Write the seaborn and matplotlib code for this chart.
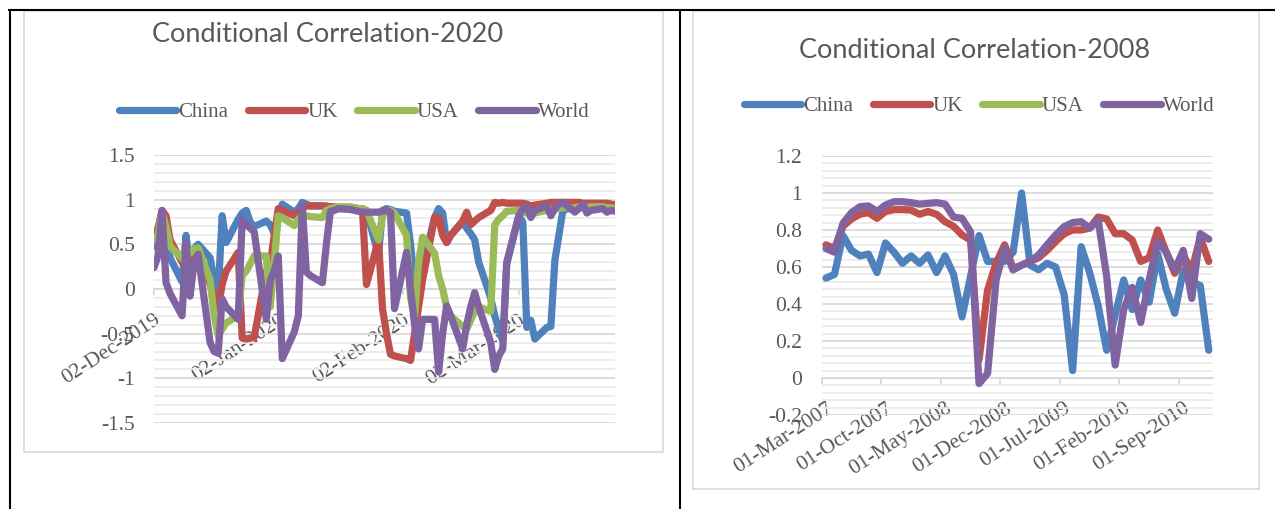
import numpy as np
import pandas as pd
import matplotlib
matplotlib.use("Agg")
import matplotlib.pyplot as plt
import matplotlib.dates as mdates
from matplotlib.lines import Line2D
from matplotlib.patches import Rectangle
from matplotlib.ticker import FixedLocator, MultipleLocator
import seaborn as sns

# ---------------------------------------------------------------- data ----
SERIES = ["China", "UK", "USA", "World"]
COLORS = {"China": "#4F81BD", "UK": "#C0504D", "USA": "#9BBB59", "World": "#8064A2"}

# 2020 episode: daily (business-day) conditional correlations
dates_2020 = pd.bdate_range("2019-12-02", "2020-03-26")
china_2020 = [0.52, 0.45, 0.85, 0.55, 0.35, 0.08, 0.60, 0.20, 0.45, 0.50,
              0.35, 0.10, -0.05, 0.82, 0.52, 0.78, 0.85, 0.88, 0.75, 0.70,
              0.76, 0.72, 0.62, 0.80, 0.95, 0.86, 0.90, 0.97, 0.95, 0.93,
              0.93, 0.92, 0.92, 0.91, 0.90, 0.90, 0.89, 0.90, 0.89, 0.88,
              0.38, 0.88, 0.90, 0.89, 0.87, 0.85, 0.50, 0.05, -0.08, 0.25,
              0.80, 0.90, 0.85, 0.52, 0.60, 0.75, 0.68, 0.62, 0.55, 0.30,
              -0.10, -0.30, -0.45, -0.58, 0.28, 0.82, 0.75, -0.43, -0.35, -0.56,
              -0.43, -0.42, 0.32, 0.60, 0.88, 0.92, 0.90, 0.93, 0.91, 0.90,
              0.92, 0.90, 0.91, 0.90]
uk_2020 = [0.62, 0.68, 0.88, 0.82, 0.55, 0.30, 0.26, 0.35, 0.41, 0.40,
           0.05, -0.10, -0.22, 0.05, 0.20, 0.41, -0.55, -0.56, -0.55, -0.54,
           0.20, 0.28, 0.60, 0.90, 0.88, 0.82, 0.86, 0.90, 0.93, 0.93,
           0.93, 0.93, 0.92, 0.92, 0.91, 0.91, 0.91, 0.90, 0.90, 0.05,
           0.55, -0.22, -0.50, -0.73, -0.75, -0.78, -0.80, -0.50, -0.20, 0.10,
           0.80, 0.80, 0.60, 0.52, 0.60, 0.76, 0.86, 0.72, 0.76, 0.80,
           0.88, 0.97, 0.96, 0.97, 0.96, 0.96, 0.96, 0.95, 0.93, 0.94,
           0.96, 0.97, 0.97, 0.97, 0.97, 0.97, 0.97, 0.96, 0.96, 0.96,
           0.96, 0.96, 0.95, 0.94]
usa_2020 = [0.55, 0.60, 0.86, 0.70, 0.48, 0.34, 0.38, 0.40, 0.45, 0.46,
            0.10, -0.30, -0.52, -0.45, -0.38, -0.30, 0.15, 0.20, 0.28, 0.37,
            0.37, -0.20, 0.30, 0.82, 0.80, 0.71, 0.78, 0.82, 0.82, 0.81,
            0.80, 0.88, 0.90, 0.91, 0.92, 0.92, 0.91, 0.90, 0.90, 0.88,
            0.55, 0.82, 0.88, 0.88, 0.85, 0.60, -0.10, -0.30, 0.30, 0.58,
            0.40, 0.15, 0.00, -0.20, -0.30, -0.42, -0.45, -0.35, -0.25, -0.20,
            -0.25, 0.72, 0.78, 0.82, 0.87, 0.88, 0.86, 0.85, 0.84, 0.85,
            0.88, 0.88, 0.90, 0.90, 0.91, 0.91, 0.92, 0.92, 0.91, 0.92,
            0.92, 0.91, 0.91, 0.90]
world_2020 = [0.24, 0.37, 0.88, 0.07, -0.05, -0.30, 0.52, -0.08, 0.30, 0.39,
              -0.60, -0.70, -0.72, -0.11, -0.20, -0.34, 0.78, 0.72, 0.68, 0.64,
              -0.34, 0.10, 0.20, 0.37, -0.78, -0.48, -0.30, 0.93, 0.19, 0.15,
              0.07, 0.50, 0.87, 0.88, 0.90, 0.89, 0.88, 0.87, 0.86, 0.86,
              0.86, 0.87, 0.88, 0.86, -0.22, 0.41, 0.00, -0.40, -0.67, -0.34,
              -0.34, -0.93, -0.50, -0.19, -0.30, -0.67, -0.40, -0.20, -0.04, -0.20,
              -0.60, -0.90, -0.75, -0.67, 0.30, 0.82, 0.90, 0.93, 0.80, 0.88,
              0.93, 0.82, 0.90, 0.95, 0.97, 0.86, 0.90, 0.95, 0.85, 0.88,
              0.90, 0.86, 0.88, 0.87]
ticks_2020 = ["2019-12-02", "2020-01-02", "2020-02-02", "2020-03-02"]
yticks_2020 = [1.5, 1, 0.5, 0, -0.5, -1, -1.5]
ylabels_2020 = ["1.5", "1", "0.5", "0", "-0.5", "-1", "-1.5"]

# 2008 episode: monthly conditional correlations (no USA observations)
months_2008 = pd.date_range("2007-03-01", periods=46, freq="MS")
china_2008 = [0.54, 0.56, 0.77, 0.69, 0.66, 0.67, 0.57, 0.73, 0.68, 0.62,
              0.66, 0.62, 0.665, 0.57, 0.66, 0.56, 0.33, 0.55, 0.77, 0.63,
              0.63, 0.63, 0.68, 1.00, 0.61, 0.585, 0.62, 0.60, 0.45, 0.04,
              0.71, 0.57, 0.39, 0.15, 0.34, 0.53, 0.37, 0.53, 0.41, 0.67,
              0.48, 0.35, 0.58, 0.52, 0.50, 0.15]
uk_2008 = [0.72, 0.70, 0.82, 0.86, 0.885, 0.894, 0.863, 0.90, 0.91, 0.91,
           0.908, 0.885, 0.90, 0.885, 0.845, 0.82, 0.773, 0.746, 0.10, 0.475,
           0.62, 0.72, 0.593, 0.61, 0.63, 0.65, 0.69, 0.737, 0.78, 0.80,
           0.80, 0.81, 0.87, 0.86, 0.78, 0.78, 0.746, 0.63, 0.65, 0.80,
           0.68, 0.566, 0.665, 0.58, 0.76, 0.63]
usa_2008 = []
world_2008 = [0.70, 0.68, 0.836, 0.894, 0.926, 0.93, 0.90, 0.935, 0.953, 0.953,
              0.948, 0.94, 0.944, 0.948, 0.94, 0.87, 0.863, 0.79, -0.03, 0.025,
              0.53, 0.70, 0.584, 0.61, 0.63, 0.665, 0.72, 0.773, 0.818, 0.84,
              0.845, 0.81, 0.854, 0.55, 0.07, 0.37, 0.49, 0.30, 0.53, 0.737,
              0.68, 0.584, 0.69, 0.43, 0.78, 0.75]
label_every_2008 = 7
yticks_2008 = [1.2, 1, 0.8, 0.6, 0.4, 0.2, 0, -0.2]
ylabels_2008 = ["1.2", "1", "0.8", "0.6", "0.4", "0.2", "0", "-0.2"]

# ---------------------------------------------------------------- style ---
sns.set_theme(style="white")
plt.rcParams["font.family"] = ["Liberation Serif", "DejaVu Serif"]
TEXT = "#595959"
GRID_MAJOR = "#d9d9d9"
GRID_MINOR = "#ececec"
LW = 5.2
TICK_SIZE = 15.5
LEGEND_SIZE = 15

W, H = 1275, 509
fig = plt.figure(figsize=(W / 100, H / 100), dpi=100)
fig.patch.set_facecolor("white")


def frac_rect(x0, y0, x1, y1):
    """Pixel box (top-left origin) -> figure-fraction rect."""
    return [x0 / W, 1 - y1 / H, (x1 - x0) / W, (y1 - y0) / H]


def fig_line(xs, ys, **kw):
    fig.add_artist(Line2D([x / W for x in xs], [1 - y / H for y in ys],
                          transform=fig.transFigure, **kw))


def fig_box(x0, y0, x1, y1, **kw):
    fig.add_artist(Rectangle((x0 / W, 1 - y1 / H), (x1 - x0) / W, (y1 - y0) / H,
                             transform=fig.transFigure, fill=False, **kw))


def long_frame(x, columns):
    parts = []
    for name, vals in columns.items():
        if len(vals):
            parts.append(pd.DataFrame({"x": x[:len(vals)], "value": vals, "series": name}))
    return pd.concat(parts, ignore_index=True)


def style_axes(ax, yticks, ylabels, minor_step):
    for side in ("left", "right", "top"):
        ax.spines[side].set_visible(False)
    ax.spines["bottom"].set_position(("data", 0))
    ax.spines["bottom"].set_color(GRID_MAJOR)
    ax.spines["bottom"].set_linewidth(1.3)
    ax.spines["bottom"].set_zorder(0.6)
    ax.set_axisbelow(True)
    ax.set_facecolor("none")
    ax.set_ylim(min(yticks), max(yticks))
    ax.yaxis.set_major_locator(FixedLocator(yticks))
    ax.set_yticklabels(ylabels)
    ax.yaxis.set_minor_locator(MultipleLocator(minor_step))
    ax.grid(axis="y", which="minor", color=GRID_MINOR, lw=1.3)
    ax.grid(axis="y", which="major", color=GRID_MAJOR, lw=1.3)
    ax.grid(axis="x", visible=False)
    ax.tick_params(axis="y", which="both", length=0, pad=14, labelsize=TICK_SIZE,
                   labelcolor=TEXT)
    ax.set_xlabel("")
    ax.set_ylabel("")


def draw_lines(ax, df):
    present = [s for s in SERIES if s in set(df["series"])]
    sns.lineplot(data=df, x="x", y="value", hue="series", hue_order=present,
                 palette=COLORS, linewidth=LW, estimator=None, sort=False,
                 legend=False, ax=ax, solid_capstyle="round", solid_joinstyle="round")


def rotate_labels(ax):
    for lab in ax.get_xticklabels():
        lab.set_rotation(33)
        lab.set_ha("right")
        lab.set_rotation_mode("anchor")


def add_legend(cx, cy):
    handles = [Line2D([], [], color=COLORS[s], lw=LW, solid_capstyle="round") for s in SERIES]
    fig.legend(handles, SERIES, loc="center", bbox_to_anchor=(cx / W, 1 - cy / H),
               ncol=4, frameon=False, handlelength=2.75, handletextpad=0.1,
               columnspacing=0.95, prop={"family": "Liberation Serif", "size": LEGEND_SIZE},
               labelcolor=TEXT)


# ------------------------------------------------------------ page frame --
fig_line([8, W], [10, 10], color="black", lw=1.5, solid_capstyle="butt")
fig_line([9.5, 9.5], [10, H], color="black", lw=1.5, solid_capstyle="butt")
fig_line([679.5, 679.5], [10, H], color="black", lw=1.5, solid_capstyle="butt")
fig_box(24, 11, 663, 452, edgecolor=GRID_MAJOR, lw=1.2)
fig_box(693, 11, 1259, 489, edgecolor=GRID_MAJOR, lw=1.2)

# ------------------------------------------------------------ 2020 panel --
ax1 = fig.add_axes(frac_rect(154, 155, 615, 423))
df20 = long_frame(dates_2020, {"China": china_2020, "UK": uk_2020,
                               "USA": usa_2020, "World": world_2020})
draw_lines(ax1, df20)
style_axes(ax1, yticks_2020, ylabels_2020, 0.1)
ax1.set_xlim(pd.Timestamp("2019-12-02"), pd.Timestamp("2020-03-26"))
ax1.set_xticks(pd.to_datetime(ticks_2020))
ax1.xaxis.set_major_formatter(mdates.DateFormatter("%d-%b-%Y"))
ax1.tick_params(axis="x", which="major", length=4.5, width=1.3, color=GRID_MAJOR,
                direction="out", pad=11, labelsize=TICK_SIZE, labelcolor=TEXT, bottom=True)
rotate_labels(ax1)
fig.text(328 / W, 1 - 35 / H, "Conditional Correlation-2020", ha="center", va="center",
         fontsize=19.5, color=TEXT, family=["Lato", "DejaVu Sans"])
add_legend(354, 112)

# ------------------------------------------------------------ 2008 panel --
ax2 = fig.add_axes(frac_rect(821.7, 156, 1213, 415))
idx_2008 = np.arange(len(months_2008))
df08 = long_frame(idx_2008, {"China": china_2008, "UK": uk_2008,
                             "USA": usa_2008, "World": world_2008})
draw_lines(ax2, df08)
style_axes(ax2, yticks_2008, ylabels_2008, 0.04)
ax2.set_xlim(-0.5, len(months_2008) - 0.5)
major_idx = idx_2008[::label_every_2008]
ax2.set_xticks(major_idx)
ax2.set_xticklabels([months_2008[i].strftime("%d-%b-%Y") for i in major_idx])
ax2.set_xticks(major_idx - 0.5, minor=True)
ax2.tick_params(axis="x", which="major", length=0, pad=15, labelsize=TICK_SIZE,
                labelcolor=TEXT, bottom=True)
ax2.tick_params(axis="x", which="minor", length=4.5, width=1.3, color=GRID_MAJOR,
                direction="out", bottom=True)
rotate_labels(ax2)
fig.text(975 / W, 1 - 50 / H, "Conditional Correlation-2008", ha="center", va="center",
         fontsize=19.5, color=TEXT, family=["Lato", "DejaVu Sans"])
add_legend(979, 106)

fig.savefig("out.png", dpi=100, facecolor="white")
